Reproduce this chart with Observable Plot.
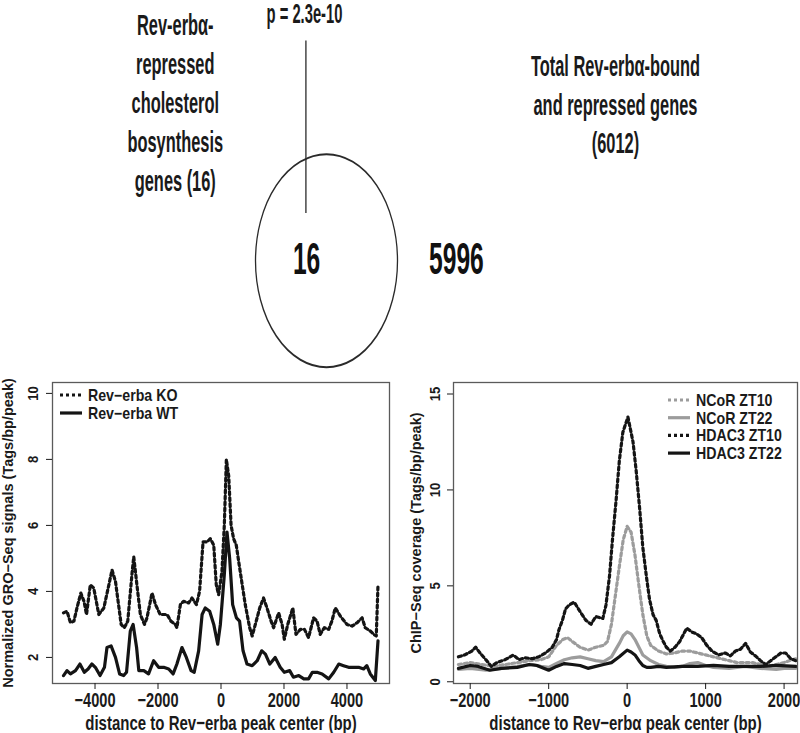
<!DOCTYPE html>
<html><head><meta charset="utf-8">
<script src="https://cdn.jsdelivr.net/npm/d3@7"></script>
<script src="https://cdn.jsdelivr.net/npm/@observablehq/plot@0.6"></script>
<style>
body{margin:0;background:#fff;}
#wrap{position:relative;width:800px;height:733px;overflow:hidden;background:#fff;}
.panel{position:absolute;}
</style></head><body><div id="wrap"></div>
<script>
// ---------- Venn data ----------
const vennSetALines = ["Rev-erbα-", "repressed", "cholesterol", "bosynthesis", "genes (16)"];
const vennSetBLines = ["Total Rev-erbα-bound", "and repressed genes", "(6012)"];
const vennOverlap = 16;
const vennOnlyB = 5996;
const vennPValue = "p = 2.3e-10";

// ---------- GRO-Seq (left) ----------
const groTitle = ["Rev−erba KO", "Rev−erba WT"];
const groKO = [[-5000,3.35],[-4890,3.4],[-4780,3.05],[-4670,3.1],[-4560,3.55],[-4450,3.95],[-4350,3.7],[-4270,3.3],[-4150,4.2],[-4040,4.1],[-3880,3.3],[-3720,3.5],[-3560,4.2],[-3460,4.65],[-3350,4.3],[-3170,3.0],[-3070,2.9],[-2960,3.1],[-2820,4.6],[-2770,5.05],[-2670,4.2],[-2560,3.3],[-2430,3.0],[-2350,3.2],[-2190,3.95],[-2080,3.6],[-1930,3.3],[-1710,3.3],[-1590,3.1],[-1450,3.0],[-1400,2.9],[-1290,3.6],[-1190,3.7],[-1030,3.65],[-920,3.8],[-780,3.6],[-680,4.0],[-570,5.5],[-440,5.5],[-340,5.6],[-230,5.4],[-150,4.2],[-75,3.9],[30,4.6],[105,6.0],[170,8.0],[245,7.5],[320,6.0],[400,5.6],[485,5.4],[610,4.6],[770,3.6],[910,2.9],[990,2.65],[1090,3.0],[1230,3.5],[1350,3.8],[1460,3.5],[1590,3.1],[1670,2.9],[1830,3.35],[1940,3.0],[2010,2.55],[2120,3.0],[2280,3.5],[2380,2.7],[2520,2.85],[2650,2.85],[2780,2.6],[2940,3.2],[3050,3.1],[3150,2.7],[3280,2.9],[3420,2.85],[3520,3.1],[3630,3.5],[3790,3.25],[4000,3.0],[4160,2.95],[4320,3.05],[4480,3.2],[4580,2.9],[4740,2.8],[4850,2.7],[4930,2.65],[4985,4.2]];
const groWT = [[-5000,1.45],[-4890,1.6],[-4780,1.5],[-4620,1.6],[-4480,1.8],[-4340,1.55],[-4220,1.65],[-4100,1.8],[-3990,1.7],[-3840,1.45],[-3700,1.7],[-3620,2.3],[-3490,2.35],[-3350,2.0],[-3220,1.5],[-3090,1.45],[-3000,1.55],[-2880,2.8],[-2790,3.0],[-2680,2.3],[-2610,1.6],[-2450,1.6],[-2300,1.5],[-2140,1.9],[-1980,1.7],[-1820,1.7],[-1660,1.65],[-1520,1.5],[-1400,1.8],[-1240,2.3],[-1100,2.0],[-950,1.6],[-850,1.55],[-710,2.2],[-600,3.3],[-500,3.5],[-360,3.4],[-230,3.0],[-105,2.4],[-20,3.0],[105,4.5],[190,5.8],[275,5.0],[370,3.6],[490,3.2],[590,3.1],[700,2.2],[825,1.8],[990,1.75],[1150,1.9],[1290,2.2],[1410,2.1],[1550,1.8],[1720,2.0],[1880,1.7],[2010,1.55],[2180,1.6],[2300,1.4],[2470,1.45],[2630,1.35],[2780,1.35],[2900,1.55],[3050,1.55],[3210,1.5],[3420,1.35],[3580,1.55],[3740,1.8],[3890,1.75],[4050,1.7],[4210,1.7],[4370,1.7],[4530,1.65],[4630,1.75],[4740,1.5],[4900,1.3],[4985,2.5]];
const groXTicks = [-4000, -2000, 0, 2000, 4000];
const groYTicks = [2, 4, 6, 8, 10];
const groXLabel = "distance to Rev−erba peak center (bp)";
const groYLabel = "Normalized GRO−Seq signals (Tags/bp/peak)";

// ---------- ChIP-Seq (right) ----------
const chipNames = ["NCoR ZT10", "NCoR ZT22", "HDAC3 ZT10", "HDAC3 ZT22"];
const ncorZT10 = [[-2150,0.9],[-2000,1.0],[-1850,0.9],[-1700,0.8],[-1550,0.9],[-1400,1.0],[-1250,1.1],[-1100,1.15],[-1000,1.3],[-900,1.9],[-820,2.2],[-760,2.3],[-700,2.1],[-600,1.8],[-500,1.65],[-400,1.8],[-300,1.9],[-250,2.1],[-200,3.0],[-150,4.5],[-100,6.0],[-50,7.4],[0,8.1],[50,7.8],[100,6.6],[150,5.0],[200,3.5],[250,2.4],[300,1.9],[400,1.6],[500,1.45],[600,1.5],[700,1.6],[800,1.6],[900,1.5],[1000,1.4],[1100,1.3],[1200,1.2],[1300,1.1],[1400,1.0],[1500,1.0],[1600,1.0],[1700,0.9],[1800,0.8],[1900,0.9],[2000,1.0],[2100,1.15],[2150,1.2]];
const ncorZT22 = [[-2150,0.65],[-2000,0.7],[-1800,0.6],[-1600,0.7],[-1400,0.8],[-1200,0.9],[-1100,0.8],[-1000,0.75],[-900,0.95],[-800,1.15],[-700,1.25],[-600,1.3],[-500,1.2],[-400,1.1],[-300,1.05],[-200,1.3],[-100,2.0],[-50,2.4],[0,2.6],[50,2.5],[100,2.2],[150,1.8],[200,1.4],[300,1.1],[400,0.9],[500,0.8],[600,0.75],[700,0.8],[800,0.95],[900,1.0],[1000,0.85],[1100,0.75],[1300,0.7],[1500,0.8],[1700,0.7],[1900,0.65],[2000,0.7],[2150,0.7]];
const hdacZT10 = [[-2150,1.3],[-2070,1.4],[-1980,1.6],[-1930,1.8],[-1875,1.5],[-1790,1.1],[-1730,0.8],[-1660,1.0],[-1555,1.15],[-1450,1.4],[-1380,1.15],[-1300,1.25],[-1210,1.2],[-1125,1.3],[-1040,1.5],[-955,1.8],[-900,2.2],[-870,2.7],[-825,3.2],[-785,3.8],[-740,4.0],[-675,4.15],[-590,3.6],[-525,3.2],[-460,3.0],[-400,3.4],[-310,3.3],[-270,4.0],[-225,5.5],[-185,7.5],[-140,9.5],[-100,11.5],[-55,13.0],[10,13.8],[75,12.5],[115,11.0],[160,9.0],[200,7.0],[245,5.5],[285,4.3],[330,3.5],[370,3.2],[415,2.5],[460,2.1],[500,1.8],[550,1.6],[610,1.8],[670,2.1],[760,2.8],[820,2.6],[885,2.5],[950,2.3],[1015,1.9],[1080,1.6],[1165,1.4],[1250,1.5],[1315,1.35],[1380,1.6],[1445,1.7],[1510,2.0],[1570,1.55],[1635,1.35],[1700,1.1],[1765,0.9],[1830,1.1],[1895,1.3],[1960,1.5],[2020,1.5],[2085,1.2],[2150,1.1]];
const hdacZT22 = [[-2150,0.7],[-2000,0.85],[-1900,0.8],[-1750,0.6],[-1600,0.7],[-1400,0.75],[-1250,0.9],[-1150,0.85],[-1000,0.6],[-900,0.8],[-800,0.95],[-700,0.9],[-600,0.85],[-500,0.7],[-400,0.8],[-300,0.9],[-200,1.0],[-100,1.3],[0,1.65],[50,1.55],[100,1.4],[150,1.1],[200,0.85],[250,0.75],[300,0.75],[400,0.8],[500,0.75],[700,0.8],[900,0.8],[1100,0.85],[1300,0.8],[1500,0.8],[1700,0.8],[1900,0.85],[2150,0.8]];
const chipXTicks = [-2000, -1000, 0, 1000, 2000];
const chipYTicks = [0, 5, 10, 15];
const chipXLabel = "distance to Rev−erbα peak center (bp)";
const chipYLabel = "ChIP−Seq coverage (Tags/bp/peak)";

// ---------- styling ----------
const FONT = "'Liberation Sans',Arial,sans-serif";
const BLACK = "#141414", GRAY = "#9c9c9c", DOT = "3,3";
const fmt = d3.format("d");
const wrap = document.getElementById("wrap");

// condense text horizontally (the figure's lettering is tall and narrow)
function condense(svg, pick) {
  svg.querySelectorAll("text").forEach(t => {
    const tr = t.getAttribute("transform") || "";
    const k = pick(t, tr.includes("rotate"));
    if (k !== 1) t.setAttribute("transform", tr + ` scale(${k},1)`);
  });
}

// ---------- Venn (drawn unstretched, then stretched 1.5x vertically as in the figure) ----------
const R = 71;
const venn = Plot.plot({
  width: 800, height: 254, margin: 0,
  x: {domain: [-1, 1], range: [326 - R, 326 + R], axis: null},
  y: {domain: [-1, 1], range: [173.3 + R, 173.3 - R], axis: null},
  style: {fontFamily: FONT, fontWeight: "bold", color: "#1a1a1a", background: "transparent", overflow: "visible"},
  marks: [
    Plot.dot([{cx: 0, cy: 0}], {x: "cx", y: "cy", r: R, stroke: "#2a2a2a", strokeWidth: 1.3, fill: "none"}),
    Plot.ruleX([vennPValue], {x: () => -0.29, y1: () => 2.06, y2: () => 0.44, stroke: "#2a2a2a", strokeWidth: 1.3}),
    Plot.text([vennPValue], {x: () => -0.31, y: () => 2.31, text: d => d, fontSize: 18, fill: "#1a1a1a"}),
    Plot.text([vennOverlap], {x: () => -0.28, y: () => 0.01, text: d => String(d), fontSize: 30, fill: "#111"}),
    Plot.text([vennOnlyB], {x: () => 1.83, y: () => 0.01, text: d => String(d), fontSize: 30, fill: "#111"}),
    Plot.text([vennSetALines.join("\n")], {x: () => -2.13, y: () => 1.50, text: d => d, fontSize: 20, lineHeight: 1.3, fill: "#1a1a1a"}),
    Plot.text([vennSetBLines.join("\n")], {x: () => 4.07, y: () => 1.49, text: d => d, fontSize: 20, lineHeight: 1.3, fill: "#1a1a1a"})
  ]
});
condense(venn, () => 0.82);
const vennDiv = document.createElement("div");
vennDiv.className = "panel";
vennDiv.style.cssText = "left:0;top:0;width:800px;height:254px;transform:scale(1,1.5);transform-origin:0 0;";
vennDiv.appendChild(venn);
wrap.appendChild(vennDiv);

// ---------- line charts ----------
function lineChart({left, series, xDomain, yDomain, xTicks, yTicks, xLabel, yLabel, marginLeft, marginRight, yLabelOffset, yTickOffset}) {
  const plot = Plot.plot({
    width: 400, height: 353,
    marginLeft, marginRight, marginTop: 2, marginBottom: 50,
    x: {domain: xDomain},
    y: {domain: yDomain},
    style: {fontFamily: FONT, fontWeight: "bold", fontSize: "18px", color: "#1a1a1a", background: "transparent", overflow: "visible"},
    marks: [
      ...series.map(s => Plot.line(s.data, {x: d => d[0], y: d => d[1], stroke: s.color, strokeWidth: 3.2, strokeDasharray: s.dash || undefined})),
      Plot.frame({stroke: "#5a5a5a", strokeWidth: 1.3}),
      Plot.axisX({ticks: xTicks, tickFormat: fmt, tickSize: 6, tickPadding: 3, fontSize: 20}),
      Plot.axisX({ticks: [], label: xLabel, labelAnchor: "center", labelArrow: "none", labelOffset: 46, fontSize: 21}),
      Plot.axisY({ticks: yTicks, tickFormat: () => "", tickSize: 6, label: yLabel, labelAnchor: "center", labelArrow: "none", labelOffset: yLabelOffset, fontSize: 14.5}),
      // rotated y tick labels (R style, las = 0)
      Plot.text(yTicks, {y: d => d, text: d => fmt(d), frameAnchor: "left", dx: -yTickOffset, rotate: -90, textAnchor: "middle", lineAnchor: "middle", fontSize: 14.5, fill: "#1a1a1a"})
    ]
  });
  condense(plot, (t, rotated) => rotated ? (t.textContent === yLabel ? 1 : 0.9) : (t.textContent === xLabel ? 0.715 : 0.73));
  const div = document.createElement("div");
  div.className = "panel";
  div.style.cssText = `left:${left}px;top:380px;width:400px;height:353px;`;
  div.appendChild(plot);
  wrap.appendChild(div);
  return div;
}

function legend(div, items, x0, y0, step) {
  const svg = d3.select(div).append("svg")
    .attr("width", 400).attr("height", 353)
    .style("position", "absolute").style("left", 0).style("top", 0)
    .style("font-family", FONT).style("font-weight", "bold").style("font-size", "16.5px");
  const g = svg.selectAll("g").data(items).join("g")
    .attr("transform", (d, i) => `translate(${x0},${y0 + i * step})`);
  g.append("line").attr("x1", 0).attr("x2", 22)
    .attr("stroke", d => d.color).attr("stroke-width", 3.2)
    .attr("stroke-dasharray", d => d.dash || null);
  g.append("text").attr("transform", "translate(28,0) scale(0.86,1)").attr("dy", "0.36em").attr("fill", "#1a1a1a").text(d => d.name);
}

const groSeries = [
  {name: groTitle[0], data: groKO, color: BLACK, dash: DOT},
  {name: groTitle[1], data: groWT, color: BLACK, dash: null}
];
const leftDiv = lineChart({
  left: 0, series: groSeries,
  xDomain: [-5350, 5350], yDomain: [1.21, 10.33],
  xTicks: groXTicks, yTicks: groYTicks, xLabel: groXLabel, yLabel: groYLabel,
  marginLeft: 52, marginRight: 11, yLabelOffset: 50, yTickOffset: 19
});
legend(leftDiv, groSeries, 60, 15, 18);

const chipSeries = [
  {name: chipNames[0], data: ncorZT10, color: GRAY, dash: DOT},
  {name: chipNames[1], data: ncorZT22, color: GRAY, dash: null},
  {name: chipNames[2], data: hdacZT10, color: BLACK, dash: DOT},
  {name: chipNames[3], data: hdacZT22, color: BLACK, dash: null}
];
const rightDiv = lineChart({
  left: 400, series: chipSeries,
  xDomain: [-2213, 2171], yDomain: [-0.09, 15.6],
  xTicks: chipXTicks, yTicks: chipYTicks, xLabel: chipXLabel, yLabel: chipYLabel,
  marginLeft: 53, marginRight: 3, yLabelOffset: 43, yTickOffset: 18
});
legend(rightDiv, chipSeries, 268, 20, 17.7);
</script>
</body></html>
